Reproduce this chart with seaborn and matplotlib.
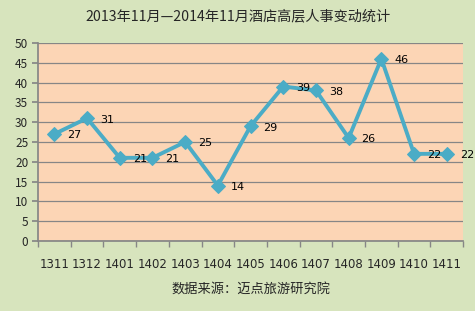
import matplotlib
matplotlib.use("Agg")
import matplotlib.pyplot as plt
import seaborn as sns
import pandas as pd
import numpy as np

months = ["1311", "1312", "1401", "1402", "1403", "1404", "1405",
          "1406", "1407", "1408", "1409", "1410", "1411"]
values = [27, 31, 21, 21, 25, 14, 29, 39, 38, 26, 46, 22, 22]
title = "2013年11月—2014年11月酒店高层人事变动统计"
xlabel = "数据来源：迈点旅游研究院"

sns.set_theme(style="white")
plt.rcParams['font.family'] = ['Noto Sans CJK SC', 'DejaVu Sans']

fig = plt.figure(figsize=(4.75, 3.11), dpi=100)
fig.patch.set_facecolor("#D7E4BD")
ax = fig.add_axes([0.08, 0.225, 0.895, 0.637])
ax.set_facecolor("#FCD5B5")

df = pd.DataFrame({"month": months, "value": values})
df["pos"] = np.arange(len(months))
sns.lineplot(data=df, x="pos", y="value", ax=ax, color="#4BACC6",
             linewidth=2.8, marker="D", markersize=7,
             markeredgecolor="#4BACC6", sort=False)

for x, v in zip(df["pos"], values):
    ax.annotate(str(v), (x, v), xytext=(9.3, -1), textcoords="offset points",
                fontsize=8, va="center", ha="left", color="#000000",
                family=['DejaVu Sans'], annotation_clip=False)

ax.set_ylim(0, 50)
ax.set_yticks(range(0, 51, 5))
ax.set_xlim(-0.5, len(months) - 0.5)
ax.set_xticks(df["pos"])
ax.set_xticklabels(months, family=['DejaVu Sans'])
ax.set_xticks(np.arange(-0.5, len(months)), minor=True)
ax.tick_params(axis="x", which="major", length=0, labelsize=8.5, pad=12)
ax.tick_params(axis="x", which="minor", length=4, color="#868686",
               direction="out", bottom=True)
ax.tick_params(axis="y", which="major", length=4, labelsize=8.5, color="#868686",
               direction="out", pad=3, left=True)
ax.grid(axis="y", color="#868686", linewidth=0.9)
ax.set_axisbelow(True)
for s in ["top", "right"]:
    ax.spines[s].set_visible(False)
ax.spines["left"].set_color("#868686")
ax.spines["bottom"].set_color("#868686")
ax.set_xlabel(xlabel, fontsize=9.5, labelpad=9)
ax.set_ylabel("")
fig.text(0.5, 0.948, title, ha="center", va="center", fontsize=10.2)

fig.savefig("out.png", dpi=100, facecolor=fig.get_facecolor())
